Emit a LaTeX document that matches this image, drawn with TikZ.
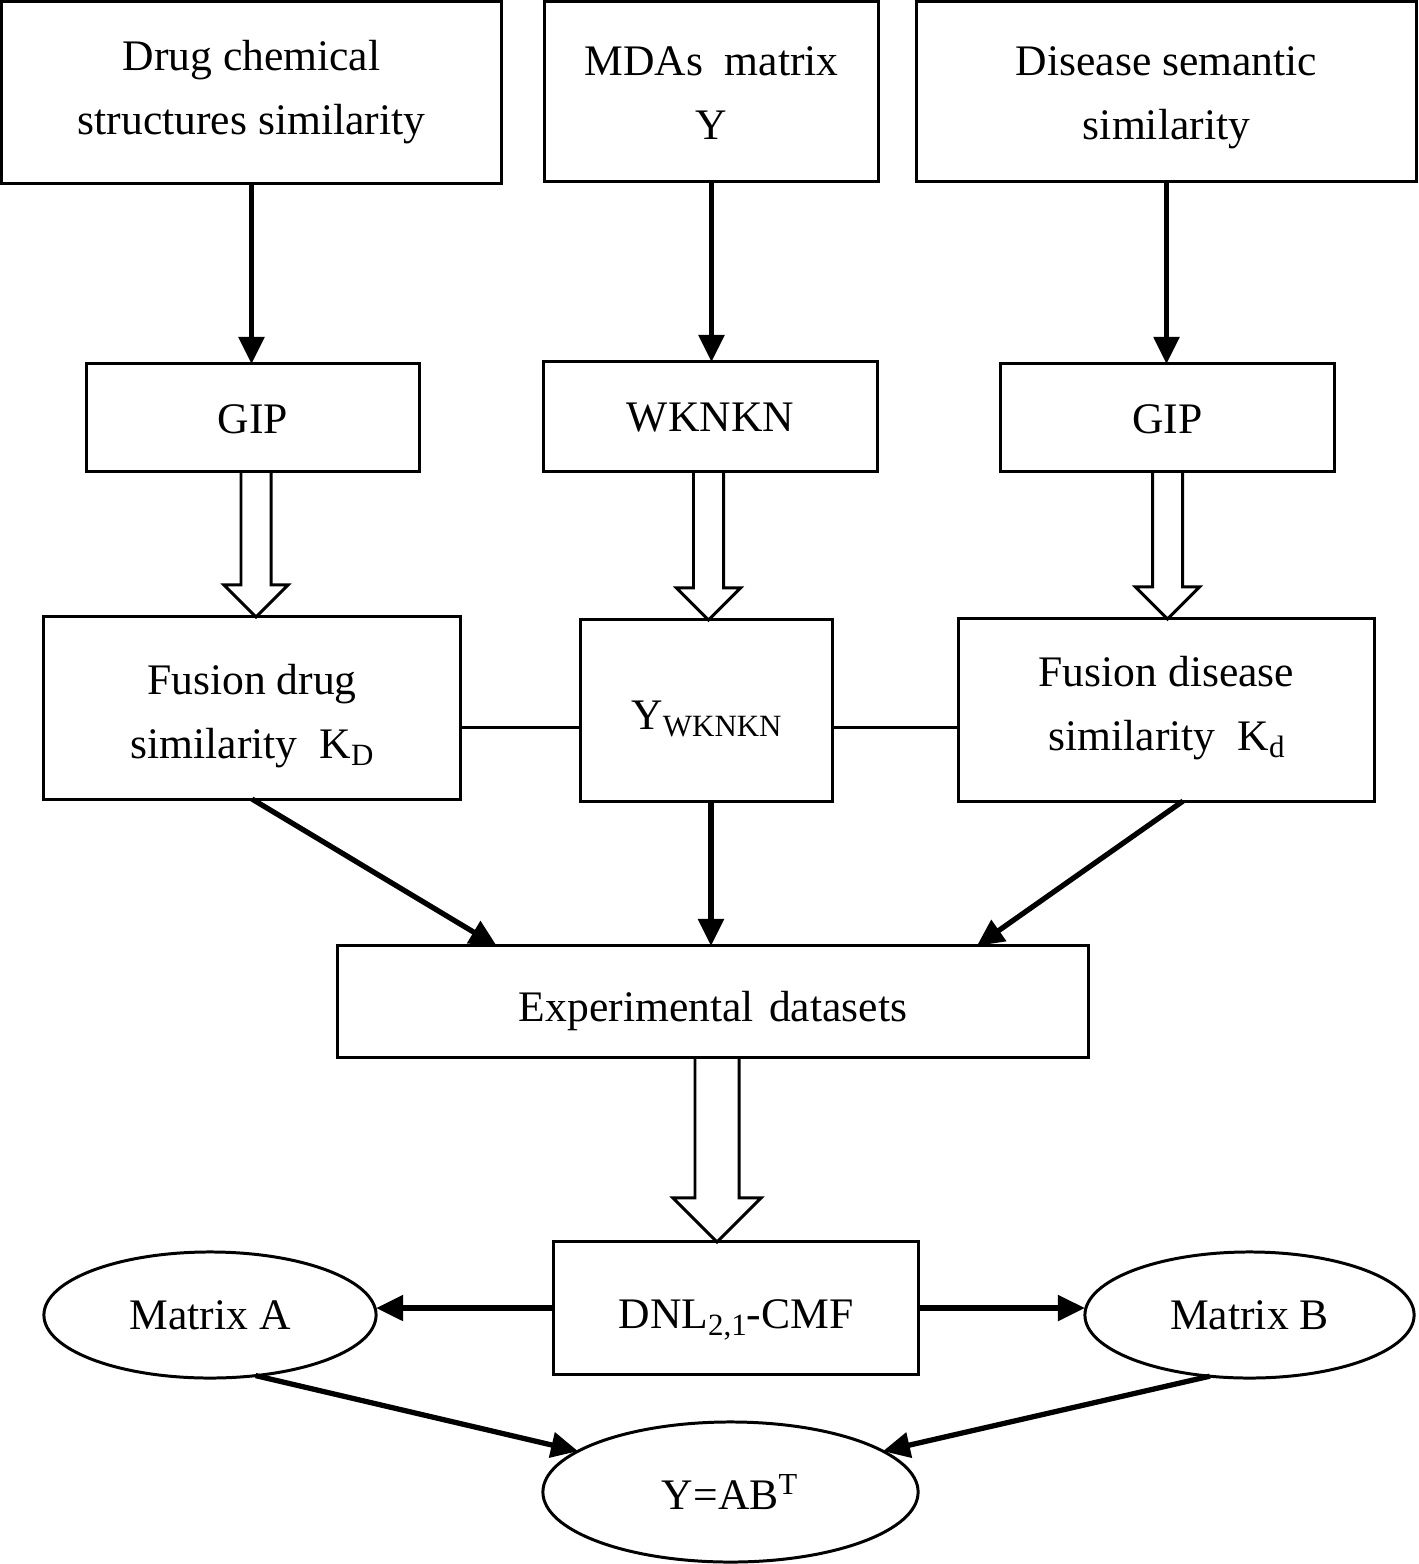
\documentclass[tikz,border=0pt]{standalone}
\usepackage{fontspec}
\setmainfont{Liberation Serif}
\usetikzlibrary{arrows.meta,calc,shapes.geometric}
\newcommand{\sbs}[1]{\raisebox{-0.35ex}{\fontsize{8.8}{8.8}\selectfont #1}}
\newcommand{\tx}[2]{\raisebox{-#1}[\height][\depth]{\begin{tabular}{@{}c@{}}#2\end{tabular}}}
\newcommand{\hollowarrow}[5]{\draw[hollowst] let \p1=(#1), \p2=(#2) in (\x1-#3,\y1) -- (\x1-#3,\y2+#5) -- (\x1-#4,\y2+#5) -- (\x1,\y2) -- (\x1+#4,\y2+#5) -- (\x1+#3,\y2+#5) -- (\x1+#3,\y1);}
\begin{document}
\begin{tikzpicture}[x=0.01cm,y=-0.01cm,
  box/.style={draw, line width=0.85pt, align=center, inner sep=0pt, outer sep=0pt,
    font=\fontsize{12.4}{18.2}\selectfont},
  ell/.style={ellipse, draw, line width=0.85pt, align=center, inner sep=0pt, outer sep=0pt,
    font=\fontsize{12.4}{18.2}\selectfont},
  arr/.style={line width=1.5pt, -{Triangle[length=0.27cm,width=0.25cm]}},
  hollowst/.style={line width=0.85pt, line join=miter},
  thin/.style={line width=0.6pt}]
\useasboundingbox (0,0) rectangle (1418,1564);

\node[box, minimum width=4.99cm, minimum height=1.81cm] (src1) at (251.5,92.5) {\tx{-0.03cm}{Drug chemical\\structures similarity}};
\node[box, minimum width=3.33cm, minimum height=1.79cm] (src2) at (711.5,91.5) {\tx{0.03cm}{MDAs\ \ matrix\\Y}};
\node[box, minimum width=4.99cm, minimum height=1.79cm] (src3) at (1166.5,91.5) {\tx{0.03cm}{Disease semantic\\similarity}};

\node[box, minimum width=3.32cm, minimum height=1.07cm] (gipa) at (253,417.5) {\tx{0.03cm}{GIP}};
\node[box, minimum width=3.33cm, minimum height=1.09cm] (wk) at (710.5,416.5) {\tx{0.02cm}{WKNKN}};
\node[box, minimum width=3.33cm, minimum height=1.07cm] (gipb) at (1167.5,417.5) {\tx{0.03cm}{GIP}};

\node[box, minimum width=4.16cm, minimum height=1.82cm] (fd) at (252,708) {\tx{0.06cm}{Fusion drug\\similarity\ \ K\sbs{D}}};
\node[box, minimum width=2.51cm, minimum height=1.81cm] (yw) at (706.5,710.5) {\tx{0.06cm}{Y\sbs{WKNKN}}};
\node[box, minimum width=4.15cm, minimum height=1.82cm] (fds) at (1166.5,710) {\tx{-0.04cm}{Fusion disease\\similarity\ \ K\sbs{d}}};

\node[box, minimum width=7.50cm, minimum height=1.11cm] (exp) at (713,1001.5) {\tx{0.07cm}{Experimental~\hspace{0.1em}datasets}};
\node[box, minimum width=3.64cm, minimum height=1.32cm] (dnl) at (736,1308) {\tx{0.08cm}{DNL\sbs{2,1}-CMF}};

\node[ell, minimum width=3.32cm, minimum height=1.26cm] (ma) at (210,1315) {Matrix A};
\node[ell, minimum width=3.29cm, minimum height=1.26cm] (mb) at (1249.5,1315) {Matrix B};
\node[ell, minimum width=3.75cm, minimum height=1.40cm] (yab) at (730.5,1492) {Y=AB\textsuperscript{T}};

\coordinate (yws) at ($(yw.south)+(4.5,0)$);
\coordinate (lnl) at ($(yw.west)+(0,17)$);
\coordinate (lnr) at ($(yw.east)+(0,17)$);

% solid arrows
\draw[arr] (src1.south) -- (src1.south |- gipa.north);
\draw[arr] (src2.south) -- (src2.south |- wk.north);
\draw[arr] (src3.south) -- (src3.south |- gipb.north);

\draw[arr] (fd.south) -- ($(exp.north west)+(159,0)$);
\draw[arr] (yws) -- (yws |- exp.north);
\draw[arr] ($(fds.south)+(16.5,0)$) -- ($(exp.north west)+(639,0)$);

\draw[arr] (dnl.west) -- (dnl.west -| ma.east);
\draw[arr] (dnl.east) -- (dnl.east -| mb.west);

\draw[arr] (ma.-53) -- (yab.165);
\draw[arr] (mb.-123) -- (yab.15);

% thin connecting lines
\draw[thin] (fd.east |- lnl) -- (lnl);
\draw[thin] (lnr) -- (fds.west |- lnr);

% hollow arrows
\hollowarrow{$(gipa.south)+(3,0)$}{fd.north}{0.15cm}{0.32cm}{0.32cm}
\hollowarrow{$(wk.south)+(-2,0)$}{yw.north}{0.15cm}{0.32cm}{0.32cm}
\hollowarrow{$(gipb.south)+(0,0)$}{fds.north}{0.15cm}{0.32cm}{0.32cm}
\hollowarrow{$(exp.south)+(4,0)$}{dnl.north}{0.22cm}{0.44cm}{0.44cm}
\end{tikzpicture}
\end{document}
